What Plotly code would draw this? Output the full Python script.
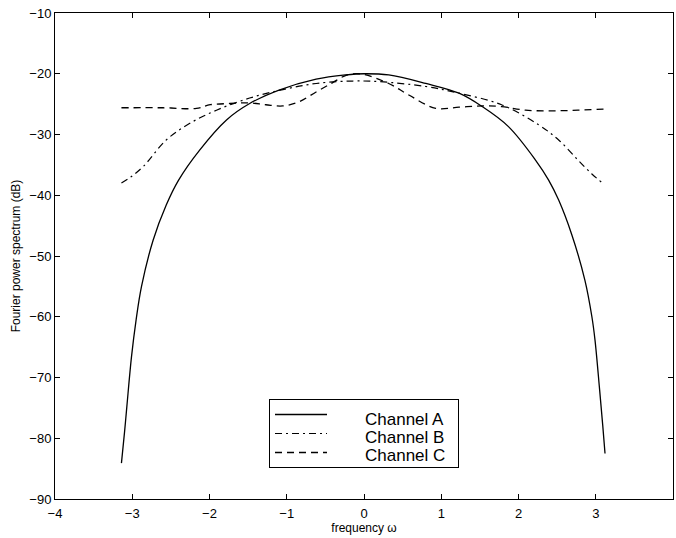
import plotly.graph_objects as go

# Channel A (solid)
a_x = [-3.14, -3.10, -3.07, -3.01, -2.95, -2.88, -2.73, -2.56, -2.40, -2.13, -1.78, -1.48, -1.10, -0.62, -0.24, 0.0,
       0.32, 0.80, 1.23, 1.53, 1.87, 2.22, 2.39, 2.52, 2.69, 2.86, 2.95, 2.99, 3.05, 3.09, 3.12]
a_y = [-84.1, -79.0, -74.8, -66.6, -60.5, -55.0, -47.4, -41.6, -37.5, -32.6, -27.6, -24.9, -22.7, -20.9, -20.2, -20.0,
       -20.2, -21.6, -23.2, -25.4, -28.7, -34.2, -37.5, -40.8, -46.5, -54.0, -60.0, -63.8, -72.0, -77.8, -82.5]

# Channel B (dash-dot)
b_x = [-3.14, -3.02, -2.86, -2.56, -2.26, -1.91, -1.48, -1.05, -0.62, -0.15, 0.20, 0.80, 1.23, 1.78, 2.26, 2.52, 2.77, 2.95, 3.08]
b_y = [-38.0, -37.0, -35.3, -30.9, -28.2, -26.0, -24.0, -22.6, -21.6, -21.2, -21.3, -22.1, -23.2, -25.1, -28.4, -30.9, -34.2, -36.5, -37.9]

# Channel C (dashed)
c_x = [-3.14, -2.60, -2.17, -1.99, -1.74, -1.48, -1.27, -1.05, -0.84, -0.62, -0.41, -0.24, -0.06,
       0.32, 0.58, 0.93, 1.23, 1.53, 1.78, 2.09, 2.43, 2.77, 3.12]
c_y = [-25.6, -25.6, -25.7, -25.1, -24.9, -24.8, -25.1, -25.3, -24.6, -23.0, -21.5, -20.3, -20.0,
       -21.6, -23.5, -25.7, -25.5, -25.3, -25.4, -26.0, -26.1, -26.0, -25.8]

series_names = ["Channel A", "Channel B", "Channel C"]

x_ticks = [-4, -3, -2, -1, 0, 1, 2, 3, 4]
y_ticks = [-90, -80, -70, -60, -50, -40, -30, -20, -10]

font_family = "Liberation Sans, Arial, Helvetica, sans-serif"
NB = "\u00a0"
blank_name = NB * 34

fig = go.Figure()
fig.add_trace(go.Scatter(x=a_x, y=a_y, mode="lines", name=blank_name,
                         line=dict(color="black", width=1.3, shape="spline", smoothing=1.0)))
fig.add_trace(go.Scatter(x=b_x, y=b_y, mode="lines", name=blank_name + NB,
                         line=dict(color="black", width=1.2, dash="7px,4px,2px,4px", shape="spline", smoothing=1.0)))
fig.add_trace(go.Scatter(x=c_x, y=c_y, mode="lines", name=blank_name + NB * 2,
                         line=dict(color="black", width=1.3, dash="7px,5px", shape="spline", smoothing=1.0)))

axis_common = dict(showgrid=False, zeroline=False, showline=True, linecolor="black", linewidth=1,
                   mirror="ticks", ticks="inside", ticklen=5, tickcolor="black", tickwidth=1,
                   automargin=False,
                   tickfont=dict(family=font_family, size=13, color="black"))

# legend texts as annotations inside the legend box
legend_text_rows = [419, 437, 455]
annotations = []
for name, ypx in zip(series_names, legend_text_rows):
    annotations.append(dict(text=name, xref="paper", yref="paper",
                            x=(363 - 55) / 618, y=(499 - ypx) / 486,
                            xanchor="left", yanchor="middle", showarrow=False,
                            font=dict(family=font_family, size=17, color="black")))

fig.update_layout(
    width=676, height=538,
    margin=dict(l=55, r=3, t=13, b=39),
    paper_bgcolor="white", plot_bgcolor="white",
    font=dict(family=font_family, color="black"),
    xaxis=dict(range=[-4, 4], tickvals=x_ticks, ticktext=[str(v).replace("-", "\u2212") for v in x_ticks],
               ticklabelstandoff=2,
               title=dict(text="frequency \u03c9", font=dict(family=font_family, size=12), standoff=1),
               **axis_common),
    yaxis=dict(range=[-90, -10], tickvals=y_ticks, ticktext=[str(v).replace("-", "\u2212") for v in y_ticks],
               title=dict(text="Fourier power spectrum (dB)", font=dict(family=font_family, size=12), standoff=6),
               **axis_common),
    legend=dict(x=(269 - 55) / 618, y=(499 - 399) / 486, xanchor="left", yanchor="top",
                bordercolor="black", borderwidth=1, bgcolor="white",
                font=dict(family=font_family, size=12, color="black"),
                itemwidth=52, tracegroupgap=0),
    annotations=annotations,
    showlegend=True,
)

fig.write_html("out.html", config={"displayModeBar": False},
               post_script="document.body.style.margin='0';document.body.style.overflow='hidden';")
